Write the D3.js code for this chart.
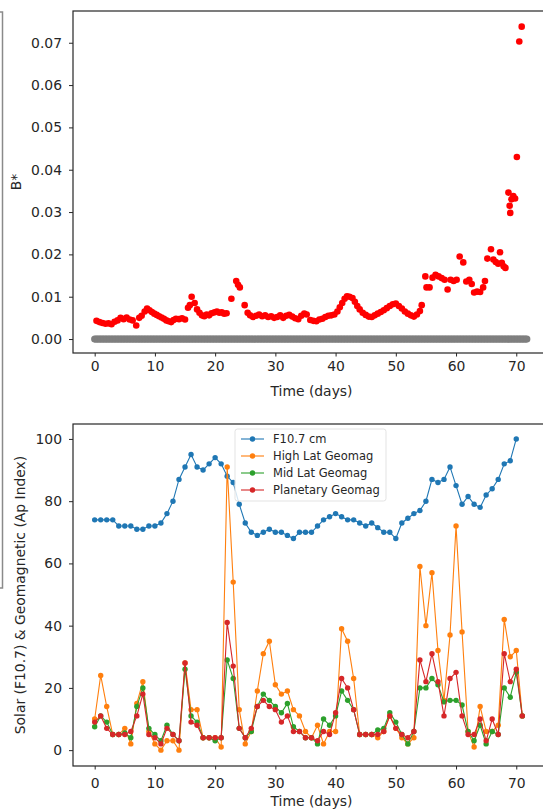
<!DOCTYPE html>
<html>
<head>
<meta charset="utf-8">
<script src="https://cdn.jsdelivr.net/npm/d3@7"></script>
<style>
  html, body { margin: 0; padding: 0; background: #fff; }
  svg { display: block; font-family: "DejaVu Sans", sans-serif; }
</style>
</head>
<body>
<svg id="chart" width="543" height="809"></svg>
<script>
// ---- Ballistic coefficient B* over time (red) ----
const bstarDays = [
  0.3, 0.8, 1.3, 1.8, 2.3, 2.8, 3.3, 3.8, 4.3, 4.8, 5.3, 5.8, 6.3, 6.9, 7.4, 7.8,
  8.3, 8.7, 9.1, 9.5, 9.9, 10.3, 10.7, 11.1, 11.5, 11.9, 12.3, 12.7, 13.1, 13.5,
  14.0, 14.5, 15.0, 15.5, 15.8, 16.1, 16.6, 17.0, 17.4, 17.8, 18.2, 18.6, 19.0,
  19.4, 19.9, 20.3, 20.7, 21.1, 21.5, 21.9, 22.7, 23.5, 23.8, 24.1, 24.9, 25.4,
  25.8, 26.3, 26.8, 27.3, 27.8, 28.3, 28.8, 29.3, 29.8, 30.3, 30.8, 31.3, 31.8,
  32.3, 32.8, 33.3, 33.8, 34.3, 34.8, 35.2, 35.8, 36.3, 36.8, 37.3, 37.8, 38.3,
  38.8, 39.3, 39.8, 40.3, 40.7, 41.1, 41.5, 41.9, 42.3, 42.8, 43.2, 43.6, 44.0,
  44.5, 45.0, 45.5, 46.0, 46.5, 47.0, 47.5, 48.0, 48.5, 49.0, 49.5, 50.0, 50.5,
  51.0, 51.5, 52.0, 52.5, 53.0, 53.5, 54.0, 54.3, 54.9, 55.1, 55.6, 56.1, 56.6,
  57.1, 57.6, 58.1, 58.6, 59.1, 59.6, 60.1, 60.6, 61.2, 61.7, 62.2, 62.6, 63.0,
  63.5, 64.0, 64.5, 64.8, 65.2, 65.8, 66.2, 66.6, 67.0, 67.3, 67.6, 67.9, 68.2,
  68.7, 68.9, 69.0, 69.2, 69.5, 69.8, 70.1, 70.5, 70.9
];
const bstarValues = [
  0.0043, 0.0040, 0.0038, 0.0036, 0.0037, 0.0035, 0.0041, 0.0044, 0.0050, 0.0047,
  0.0051, 0.0046, 0.0044, 0.0032, 0.0050, 0.0055, 0.0065, 0.0072, 0.0068, 0.0064,
  0.0060, 0.0057, 0.0054, 0.0051, 0.0048, 0.0044, 0.0042, 0.0040, 0.0045, 0.0048,
  0.0047, 0.0049, 0.0046, 0.0074, 0.0080, 0.0100, 0.0085, 0.0070, 0.0062, 0.0056,
  0.0054, 0.0058, 0.0056, 0.0061, 0.0063, 0.0065, 0.0062, 0.0063, 0.0060, 0.0061,
  0.0095, 0.0137, 0.0128, 0.0122, 0.0080, 0.0062, 0.0056, 0.0052, 0.0055, 0.0058,
  0.0054, 0.0056, 0.0052, 0.0054, 0.0050, 0.0052, 0.0056, 0.0050, 0.0055, 0.0057,
  0.0053, 0.0049, 0.0047, 0.0055, 0.0060, 0.0058, 0.0045, 0.0043, 0.0042, 0.0046,
  0.0048, 0.0052, 0.0055, 0.0056, 0.0058, 0.0065, 0.0075, 0.0085, 0.0095, 0.0101,
  0.0100, 0.0097, 0.0088, 0.0078, 0.0070, 0.0062, 0.0057, 0.0053, 0.0052, 0.0056,
  0.0060, 0.0064, 0.0068, 0.0073, 0.0078, 0.0082, 0.0084, 0.0078, 0.0072, 0.0065,
  0.0060, 0.0056, 0.0053, 0.0058, 0.0066, 0.0080, 0.0148, 0.0122, 0.0122, 0.0145,
  0.0152, 0.0148, 0.0144, 0.0140, 0.0117, 0.0140, 0.0137, 0.0140, 0.0195, 0.0181,
  0.0136, 0.0140, 0.0130, 0.0110, 0.0112, 0.0111, 0.0122, 0.0137, 0.0190, 0.0212,
  0.0188, 0.0182, 0.0178, 0.0205, 0.0180, 0.0172, 0.0168, 0.0346, 0.0315, 0.0298,
  0.0330, 0.0338, 0.0332, 0.0430, 0.0703, 0.0738
];

// ---- Reference object B*, flat at zero over the whole span (grey) ----
const baselineDays = d3.range(0, 72, 0.25);
const baselineValue = 0;

// ---- Daily solar flux and geomagnetic indices ----
const f107 = [
  74, 74, 74, 74, 72, 72, 72, 71, 71, 72, 72, 73, 76, 80, 87, 91, 95, 91, 90, 92,
  94, 92, 88, 86, 79, 73, 70, 69, 70, 71, 70, 70, 69, 68, 70, 70, 70, 72, 74, 75,
  76, 75, 74, 74, 73, 72, 73, 71.5, 70, 70, 68, 73, 74.5, 76, 77, 80, 87, 86, 87, 91,
  85, 79, 81.5, 79, 78, 82, 84, 87, 92, 93, 100
];
const apHighLat = [
  10, 24, 14, 5, 5, 7, 2, 15, 22, 6, 2, 0, 3, 3, 0, 28, 13, 13, 4, 4,
  4, 1, 91, 54, 13, 2, 6, 19, 31, 35, 21, 18, 19, 13, 11, 6, 4, 8, 2, 6,
  6, 39, 35, 23, 5, 5, 5, 4, 6, 11, 7, 4, 2, 4, 59, 40, 57, 32, 16, 37,
  72, 38, 6, 1, 14, 6, 6, 8, 42, 30, 32, 11
];
const apMidLat = [
  7.5, 11, 9, 5, 5, 5.5, 4, 14, 20, 7, 5, 3, 8, 5, 3, 26, 11, 9, 4, 4,
  3, 4, 29, 23, 7, 4, 6, 14, 18, 16, 14, 12, 15, 7.5, 6, 4, 4, 2, 10, 8,
  11, 19, 16, 13, 5, 5, 5, 6.5, 7, 12, 9, 5, 2, 6, 20, 20, 23, 21, 15.5, 16,
  16, 14.5, 6, 3, 8, 2, 6, 5, 20, 17, 25, 11
];
const apPlanetary = [
  9, 11, 7, 5, 5, 5, 6, 11, 18, 5, 4, 2, 7, 5, 3, 28, 9, 8, 4, 4,
  4, 4, 41, 27, 7, 4, 7, 14, 16, 14, 13, 9, 11, 6, 6, 4, 4, 3, 6, 5,
  12, 23, 20, 13, 5, 5, 5, 5, 6, 11, 7, 5, 4, 6, 29, 22, 31, 22, 11, 23,
  25, 11, 5, 5, 10, 3, 10, 5, 31, 22, 26, 11
];

const seriesNames = ["F10.7 cm", "High Lat Geomag", "Mid Lat Geomag", "Planetary Geomag"];
const seriesColors = ["#1f77b4", "#ff7f0e", "#2ca02c", "#d62728"];

// ---- Tick labels ----
const dayTicks = [0, 10, 20, 30, 40, 50, 60, 70];
const bstarTicks = [0.00, 0.01, 0.02, 0.03, 0.04, 0.05, 0.06, 0.07];
const indexTicks = [0, 20, 40, 60, 80, 100];

// ---------------------------------------------------------------
const svg = d3.select("#chart");
const ink = "#262626";

svg.append("rect").attr("width", 543).attr("height", 809).attr("fill", "#fff");

// Edge of the neighbouring figure panel on the far left
svg.append("path")
  .attr("d", "M0,12 H2.5 V588 H0")
  .attr("fill", "none").attr("stroke", "#8a8a8a").attr("stroke-width", 1.5);

const x = d3.scaleLinear().domain([-3.6, 75.6]).range([73, 550]);
const yB = d3.scaleLinear().domain([-0.0033, 0.0775]).range([353, 11]);
const yS = d3.scaleLinear().domain([-5.1, 104.8]).range([766, 424]);

function styleAxis(g) {
  g.select(".domain").remove();
  g.selectAll(".tick line").attr("stroke", ink).attr("stroke-width", 1);
  g.selectAll(".tick text").attr("fill", ink).style("font-size", "13.9px")
    .style("font-family", '"DejaVu Sans", sans-serif');
}

// ================= Upper panel: B* =================
const upper = svg.append("g");
upper.append("defs").append("clipPath").attr("id", "clipUpper")
  .append("rect").attr("x", 73).attr("y", 11).attr("width", 477).attr("height", 342);

const upperPlot = upper.append("g").attr("clip-path", "url(#clipUpper)");
upperPlot.selectAll("circle.base")
  .data(baselineDays)
  .join("circle")
  .attr("class", "base")
  .attr("cx", d => x(d))
  .attr("cy", yB(baselineValue))
  .attr("r", 3.6)
  .attr("fill", "#7f7f7f");

upperPlot.selectAll("circle.bstar")
  .data(bstarDays.map((d, i) => [d, bstarValues[i]]))
  .join("circle")
  .attr("class", "bstar")
  .attr("cx", d => x(d[0]))
  .attr("cy", d => yB(d[1]))
  .attr("r", 3.3)
  .attr("fill", "#ff0000");

upper.append("g").attr("transform", "translate(0,353)")
  .call(d3.axisBottom(x).tickValues(dayTicks).tickSize(3.5).tickPadding(4.5).tickFormat(d3.format("d")))
  .call(styleAxis);
upper.append("g").attr("transform", "translate(73,0)")
  .call(d3.axisLeft(yB).tickValues(bstarTicks).tickSize(4).tickPadding(7).tickFormat(d3.format(".2f")))
  .call(styleAxis);

upper.append("rect").attr("x", 73).attr("y", 11).attr("width", 477).attr("height", 342)
  .attr("fill", "none").attr("stroke", ink).attr("stroke-width", 1.2);

upper.append("text").attr("x", 311.5).attr("y", 396).attr("text-anchor", "middle")
  .attr("fill", ink).style("font-size", "13.9px").text("Time (days)");
upper.append("text").attr("transform", "translate(21,182) rotate(-90)").attr("text-anchor", "middle")
  .attr("fill", ink).style("font-size", "13.9px").text("B*");

// ================= Lower panel: solar & geomagnetic =================
const lower = svg.append("g");
lower.append("defs").append("clipPath").attr("id", "clipLower")
  .append("rect").attr("x", 73).attr("y", 424).attr("width", 477).attr("height", 342);

const lowerPlot = lower.append("g").attr("clip-path", "url(#clipLower)");
const allSeries = [f107, apHighLat, apMidLat, apPlanetary];
const line = d3.line().x((d, i) => x(i)).y(d => yS(d));

allSeries.forEach((vals, k) => {
  const g = lowerPlot.append("g");
  g.append("path").datum(vals).attr("d", line)
    .attr("fill", "none").attr("stroke", seriesColors[k]).attr("stroke-width", 1.1);
  g.selectAll("circle").data(vals).join("circle")
    .attr("cx", (d, i) => x(i)).attr("cy", d => yS(d)).attr("r", 2.7)
    .attr("fill", seriesColors[k]);
});

lower.append("g").attr("transform", "translate(0,766)")
  .call(d3.axisBottom(x).tickValues(dayTicks).tickSize(3.5).tickPadding(8.5).tickFormat(d3.format("d")))
  .call(styleAxis);
lower.append("g").attr("transform", "translate(73,0)")
  .call(d3.axisLeft(yS).tickValues(indexTicks).tickSize(4).tickPadding(7).tickFormat(d3.format("d")))
  .call(styleAxis);

lower.append("rect").attr("x", 73).attr("y", 424).attr("width", 477).attr("height", 342)
  .attr("fill", "none").attr("stroke", ink).attr("stroke-width", 1.2);

lower.append("text").attr("x", 311.5).attr("y", 806).attr("text-anchor", "middle")
  .attr("fill", ink).style("font-size", "13.9px").text("Time (days)");
lower.append("text").attr("transform", "translate(25,595) rotate(-90)").attr("text-anchor", "middle")
  .attr("fill", ink).style("font-size", "13.9px").text("Solar (F10.7) & Geomagnetic (Ap Index)");

// Legend
const legend = lower.append("g");
legend.append("rect").attr("x", 235).attr("y", 429).attr("width", 151).attr("height", 72)
  .attr("rx", 2.5).attr("fill", "#fff").attr("fill-opacity", 0.8)
  .attr("stroke", "#e3e3e3").attr("stroke-width", 1);
seriesNames.forEach((name, k) => {
  const ly = 439 + k * 17;
  legend.append("line").attr("x1", 241).attr("x2", 264).attr("y1", ly).attr("y2", ly)
    .attr("stroke", seriesColors[k]).attr("stroke-width", 1.1);
  legend.append("circle").attr("cx", 252.5).attr("cy", ly).attr("r", 2.7).attr("fill", seriesColors[k]);
  legend.append("text").attr("x", 273).attr("y", ly).attr("dy", "0.35em")
    .attr("fill", ink).style("font-size", "11.5px").text(name);
});
</script>
</body>
</html>
